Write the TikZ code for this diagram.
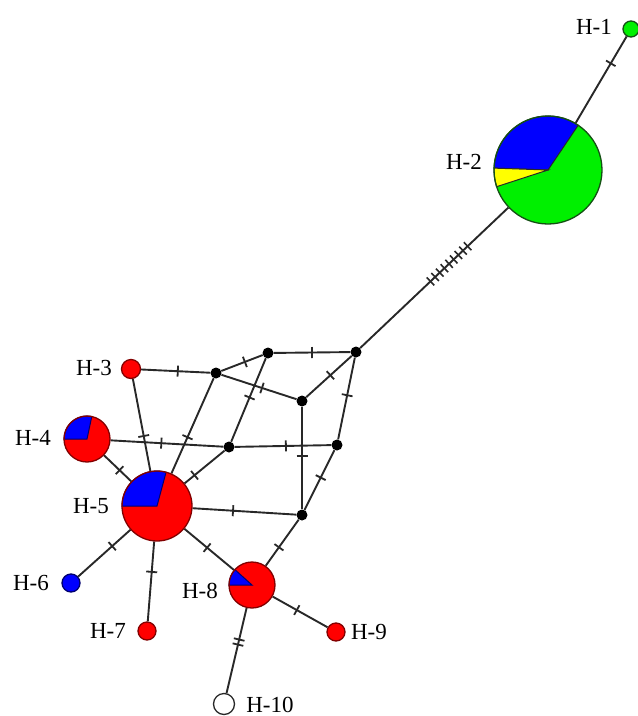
\documentclass[tikz,border=0pt]{standalone}
\usepackage{fontspec}
\setmainfont{Liberation Serif}
\usetikzlibrary{decorations.markings}
\definecolor{hred}{RGB}{255,0,0}
\definecolor{hblue}{RGB}{0,0,255}
\definecolor{hgreen}{RGB}{0,240,0}
\definecolor{hyellow}{RGB}{255,255,0}
\definecolor{ln}{RGB}{40,40,40}
\definecolor{redo}{RGB}{130,0,0}
\definecolor{blueo}{RGB}{0,0,110}
\definecolor{greeno}{RGB}{20,80,20}
\begin{document}
\begin{tikzpicture}[x=1pt,y=1pt,
  tickln/.style={draw=ln, line width=1.8pt},
  edge/.style={draw=ln, line width=1.9pt},
  tk/.style={postaction={decorate,decoration={markings,mark=at position #1 with {\draw[tickln] (0pt,-5.5pt) -- (0pt,5.5pt);}}}},
  tkk/.style={postaction={decorate,decoration={markings,mark=at position #1 with {\draw[tickln] (-2.6pt,-5.5pt) -- (-2.6pt,5.5pt); \draw[tickln] (2.6pt,-5.5pt) -- (2.6pt,5.5pt);}}}},
  tkn/.style={postaction={decorate,decoration={markings,mark=at position #1 with {\foreach \k in {-4,...,4} {\draw[tickln, line width=1.6pt] (\k*6.4pt,-5.5pt) -- (\k*6.4pt,5.5pt);}}}}},
  hap/.style={circle, inner sep=0pt, minimum size=#1, line width=1.3pt},
  med/.style={circle, fill=black, inner sep=0pt, minimum size=11pt},
  lab/.style={font=\fontsize{23}{27}\selectfont, inner sep=0pt}
]
\useasboundingbox (0,0) rectangle (638,-716);
% haplotype nodes
\node[hap=16, fill=hgreen, draw=greeno] (H1) at (631,-29) {};
\node[hap=108, fill=hgreen] (H2) at (548,-170) {};
\node[hap=19, fill=hred, draw=redo] (H3) at (131,-369) {};
\node[hap=46, fill=hred] (H4) at (87,-439) {};
\node[hap=70, fill=hred] (H5) at (157,-506) {};
\node[hap=18, fill=hblue, draw=blueo] (H6) at (71,-583) {};
\node[hap=18, fill=hred, draw=redo] (H7) at (147,-631) {};
\node[hap=46, fill=hred] (H8) at (252,-585) {};
\node[hap=18, fill=hred, draw=redo] (H9) at (336,-632) {};
\node[hap=21, fill=white, draw=ln] (H10) at (224,-704) {};
% median vectors
\node[med] (A) at (356,-352) {};
\node[med] (B) at (268,-353) {};
\node[med] (C) at (216,-373) {};
\node[med] (D) at (302,-401) {};
\node[med] (E) at (229,-447) {};
\node[med] (F) at (337,-445) {};
\node[med] (G) at (302,-515) {};
% edges
\draw[edge, tk=0.69] (H2) -- (H1);
\draw[edge, tkn=0.60] (A) -- (H2);
\draw[edge, tk=0.5] (B) -- (A);
\draw[edge, tk=0.47] (A) -- (D);
\draw[edge, tk=0.46] (A) -- (F);
\draw[edge, tk=0.57] (C) -- (B);
\draw[edge, tk=0.47] (B) -- (E);
\draw[edge, tk=0.54] (C) -- (D);
\draw[edge, tk=0.53] (H3) -- (C);
\draw[edge, tk=0.62] (C) -- (H5);
\draw[edge, tk=0.62] (H3) -- (H5);
\draw[edge, tk=0.45] (H4) -- (E);
\draw[edge, tk=0.53] (E) -- (F);
\draw[edge, tk=0.57] (H4) -- (H5);
\draw[edge, tk=0.25] (H5) -- (E);
\draw[edge, tk=0.48] (D) -- (G);
\draw[edge, tk=0.46] (F) -- (G);
\draw[edge, tk=0.39] (H5) -- (G);
\draw[edge, tk=0.35] (H5) -- (H6);
\draw[edge, tk=0.38] (H5) -- (H7);
\draw[edge, tk=0.46] (H5) -- (H8);
\draw[edge, tk=0.6] (G) -- (H8);
\draw[edge, tk=0.44] (H8) -- (H9);
\draw[edge, tkk=0.4] (H8) -- (H10);
% pies
\filldraw[fill=hblue, draw=ln, line width=1pt] (H2.center) -- ++(56:54) arc[start angle=56, end angle=178, radius=54] -- cycle;
\filldraw[fill=hyellow, draw=ln, line width=1pt] (H2.center) -- ++(178:54) arc[start angle=178, end angle=198, radius=54] -- cycle;
\draw[greeno, line width=1.3pt] (H2.center) circle[radius=54];
\filldraw[fill=hblue, draw=blueo, line width=1pt] (H5.center) -- ++(75:35) arc[start angle=75, end angle=180, radius=35] -- cycle;
\draw[redo, line width=1.3pt] (H5.center) circle[radius=35];
\filldraw[fill=hblue, draw=blueo, line width=1pt] (H4.center) -- ++(78:23) arc[start angle=78, end angle=180, radius=23] -- cycle;
\draw[redo, line width=1.3pt] (H4.center) circle[radius=23];
\filldraw[fill=hblue, draw=blueo, line width=1pt] (H8.center) -- ++(138:23) arc[start angle=138, end angle=180, radius=23] -- cycle;
\draw[redo, line width=1.3pt] (H8.center) circle[radius=23];
% labels
\node[lab] (L1) at (594,-27) {H-1};
\node[lab] (L2) at (464,-162) {H-2};
\node[lab] (L3) at (94,-368) {H-3};
\node[lab] (L4) at (33,-438) {H-4};
\node[lab] (L5) at (91,-506) {H-5};
\node[lab] (L6) at (31,-583) {H-6};
\node[lab] (L7) at (108,-631) {H-7};
\node[lab] (L8) at (200,-591) {H-8};
\node[lab] (L9) at (369,-632) {H-9};
\node[lab] (L10) at (270,-705) {H-10};
\end{tikzpicture}
\end{document}
